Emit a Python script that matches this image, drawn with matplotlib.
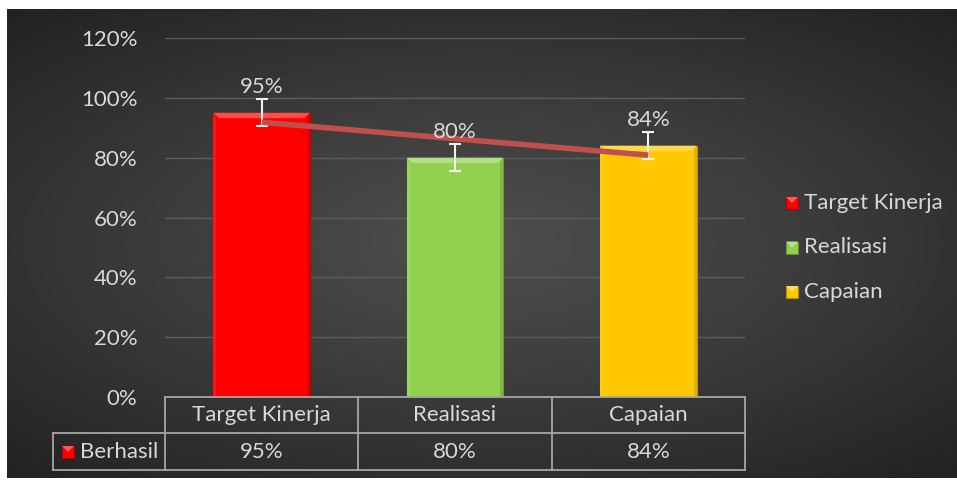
import numpy as np
import matplotlib.pyplot as plt
from matplotlib.patches import Polygon, Rectangle

categories = ['Target Kinerja', 'Realisasi', 'Capaian']
values = [95, 80, 84]
series_name = 'Berhasil'
colors = ['#ff0000', '#92d050', '#ffc800']
y_ticks = [0, 20, 40, 60, 80, 100, 120]

W, H = 957, 482
fig = plt.figure(figsize=(W / 100, H / 100), dpi=100)
fig.patch.set_facecolor('white')
plt.rcParams['font.family'] = ['Lato', 'DejaVu Sans']
txt = '#d9d9d9'
fs = 16

# dark radial background
bg = fig.add_axes([7 / W, 4 / H, 950 / W, 469 / H])
yy, xx = np.mgrid[-1:1:200j, -1:1:400j]
r = np.sqrt((xx * 0.9) ** 2 + (yy * 1.0) ** 2)
bg.imshow(np.clip(r, 0, 1.4), cmap=plt.matplotlib.colors.LinearSegmentedColormap.from_list(
    'bg', ['#4e4e4e', '#3a3a3a', '#222222']), aspect='auto', extent=[0, 1, 0, 1])
bg.axis('off')

x0, x1 = 165 / W, 745 / W
yb, yt = 1 - 397 / H, 1 - 38 / H
ax = fig.add_axes([x0, yb, x1 - x0, yt - yb])
ax.patch.set_alpha(0)
ax.set_xlim(0, 3)
ax.set_ylim(0, 120)
for s in ax.spines.values():
    s.set_visible(False)
ax.set_xticks([])
ax.set_yticks(y_ticks)
ax.set_yticklabels([f'{t}%' for t in y_ticks], color=txt, fontsize=fs)
ax.tick_params(axis='y', length=0, pad=20)
for t in y_ticks[1:]:
    ax.axhline(t, color='#5c5c5c', lw=1, zorder=0)

xs = np.arange(len(values)) + 0.5
bw = 0.5


def shade(c, f):
    c = np.array(plt.matplotlib.colors.to_rgb(c))
    return np.clip(c * f if f < 1 else c + (1 - c) * (f - 1), 0, 1)


bev_x, bev_y = 0.03, 1.8
for x, v, c in zip(xs, values, colors):
    l, r_ = x - bw / 2, x + bw / 2
    ax.add_patch(Rectangle((l, 0), bw, v, facecolor=c, edgecolor=shade(c, 0.75), lw=0.8, zorder=2))
    ax.add_patch(Polygon([(l, v), (r_, v), (r_ - bev_x, v - bev_y), (l + bev_x, v - bev_y)],
                         closed=True, facecolor=shade(c, 1.3), lw=0, zorder=3))
    ax.add_patch(Polygon([(r_, v), (r_, 0), (r_ - 0.015, 0), (r_ - 0.015, v - bev_y)],
                         closed=True, facecolor=shade(c, 0.88), lw=0, zorder=3))
    ax.add_patch(Polygon([(l, v), (l, 0), (l + 0.015, 0), (l + 0.015, v - bev_y)],
                         closed=True, facecolor=shade(c, 1.08), lw=0, zorder=3))

# error bars (standard error)
se = np.std(values, ddof=1) / np.sqrt(len(values))
ax.errorbar(xs, values, yerr=se, fmt='none', ecolor='#f2f2f2', elinewidth=1.5,
            capsize=4.5, capthick=1.5, zorder=4)

# linear trendline
k, b = np.polyfit(np.arange(1, 4), values, 1)
ax.plot(xs, k * np.arange(1, 4) + b, color='#c0504d', lw=4, zorder=5, solid_capstyle='butt')

for x, v in zip(xs, values):
    ax.text(x, v + 8.5, f'{v}%', ha='center', va='center', color=txt, fontsize=fs, zorder=6)

# data table
tc = '#a6a6a6'
r1t, r1b, r2b = 1 - 397 / H, 1 - 433 / H, 1 - 470 / H
lx = 53 / W
cw = (x1 - x0) / 3
lk = dict(color=tc, lw=1.3, transform=fig.transFigure)
fig.add_artist(plt.Line2D([x0, x1], [r1t, r1t], **lk))
fig.add_artist(plt.Line2D([lx, x1], [r1b, r1b], **lk))
fig.add_artist(plt.Line2D([lx, x1], [r2b, r2b], **lk))
fig.add_artist(plt.Line2D([lx, lx], [r1b, r2b], **lk))
for i in range(4):
    fig.add_artist(plt.Line2D([x0 + i * cw] * 2, [r1t, r2b], **lk))
for i, (cat, v) in enumerate(zip(categories, values)):
    cx = x0 + (i + 0.5) * cw
    fig.text(cx, (r1t + r1b) / 2, cat, ha='center', va='center', color=txt, fontsize=fs)
    fig.text(cx, (r1b + r2b) / 2, f'{v}%', ha='center', va='center', color=txt, fontsize=fs)


def key(px, py, c):
    s = 12
    fig.add_artist(Rectangle((px / W, 1 - (py + s / 2) / H), s / W, s / H, facecolor=c,
                             edgecolor=shade(c, 0.7), lw=0.8, transform=fig.transFigure))
    fig.add_artist(Polygon([(px / W, 1 - (py - s / 2) / H), ((px + s) / W, 1 - (py - s / 2) / H),
                            ((px + s / 2) / W, 1 - py / H)], closed=True,
                           facecolor=shade(c, 1.35), lw=0, transform=fig.transFigure))


key(62, 452, '#ff0000')
fig.text(80 / W, 1 - 452 / H, series_name, ha='left', va='center', color=txt, fontsize=fs)

# legend
for i, (cat, c) in enumerate(zip(categories, colors)):
    py = 203 + i * 44.5
    key(786, py, c)
    fig.text(804 / W, 1 - py / H, cat, ha='left', va='center', color=txt, fontsize=fs)

fig.savefig('out.png', dpi=100, facecolor='white')
